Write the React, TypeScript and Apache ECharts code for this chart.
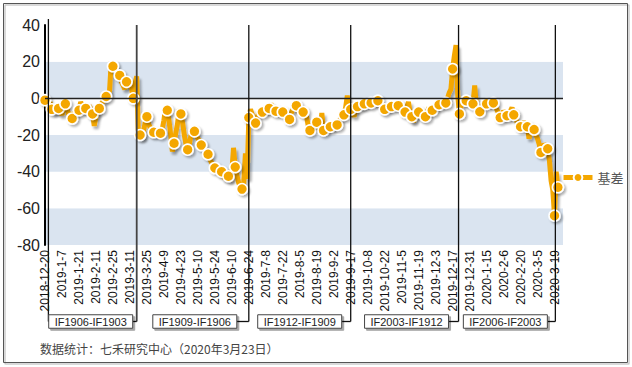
import React, { useEffect, useRef } from "react";
import * as echarts from "echarts";

// x-axis tick labels (every 10th trading day)
const xLabels = [
  "2018-12-20", "2019-1-7", "2019-1-21", "2019-2-11", "2019-2-25", "2019-3-11",
  "2019-3-25", "2019-4-9", "2019-4-23", "2019-5-10", "2019-5-24", "2019-6-10",
  "2019-6-24", "2019-7-8", "2019-7-22", "2019-8-5", "2019-8-19", "2019-9-2",
  "2019-9-17", "2019-10-8", "2019-10-22", "2019-11-5", "2019-11-19", "2019-12-3",
  "2019-12-17", "2019-12-31", "2020-1-15", "2020-2-6", "2020-2-20", "2020-3-5",
  "2020-3-19",
];

// daily basis values (trading-day index 0 = 2018-12-20)
const basis = [
  -1, -3, -5, -2, -6, -7, -8, -5, -5.5, -7,
  -9, -5, -3, -6, -9, -8, -11, -9, -7, -8,
  -6.5, -2, -4, -7, -5.5, -6, -4, -6, -8.5, -15,
  -10, -7, -5.5, -3, -2, -1, 1, 2, 4, 20,
  17.5, 19, 15, 14, 12.5, 9, 7, 5, 9, 6,
  8, 5, 0, 8, 12, -21, -20, -22, -18, -13,
  -10, -14, -16, -20, -18.5, -17, -19, -18, -19, -17,
  -12, -5, -6.5, -12, -20, -29, -24.5, -19, -14, -6,
  -8.5, -13, -20, -25, -28, -25, -20, -17, -18, -20,
  -22, -23, -25.5, -27, -28, -29, -30.5, -33, -35, -36,
  -38, -39, -40, -41, -40, -42, -44, -43, -42.5, -45,
  -40, -27, -37.5, -42, -46, -48, -49.5, -46, -30, -44,
  -10.5, -6, -9, -12, -13.5, -10, -8, -7, -7.5, -7,
  -6, -6, -5.5, -3, -5, -7, -7, -7, -8, -7,
  -7.5, -9, -10, -12, -11.5, -8, -6, -3, -4, -6,
  -8, -7, -7.5, -9, -10, -15, -17.5, -16, -14, -13,
  -13, -15, -17, -8, -17.5, -17, -16, -15, -15.5, -16,
  -15, -14, -14.5, -13, -11, -10, -9, -5, 1.5, -4,
  -6, -7, -10, -6, -4.5, -4, -3, -5, -3, -3,
  -2, -3, -2.5, -2, -1.5, -2, -1.3, -3, -5, -7,
  -6, -5, -4, -5, -4.5, -4, -3, -4, -4, -5,
  -6, -8, -7.5, -5, -2, -8, -10, -13, -9, -8,
  -7.5, -9, -11, -10, -10, -8, -5, -7, -6.5, -5,
  -4, -4, -3.5, -3, -2, -3, -2.5, 0, 3, 5,
  16, 23, 29, 2, -8.5, -4, -1, -2, -1.3, -2,
  -3, -1, -3, 7, -4, -6, -7.3, -5, -3, -2,
  -3, -2, -3, -2, -2.5, -4, -6, -8, -10.5, -9,
  -7, -8, -9.5, -10, -7, -5, -9, -11, -13, -14,
  -15.5, -14, -13, -14, -15.5, -22, -18, -15, -17, -20,
  -22, -25, -29.5, -27, -25, -26, -27.5, -34, -45, -50,
  -64, -40, -48.5,
];

// contract roll annotations: line positions (trading-day index) and labels
const rollIdx = [2, 54, 120, 180, 243.5, 300.5];
const rollLabels = ["IF1906-IF1903", "IF1909-IF1906", "IF1912-IF1909", "IF2003-IF1912", "IF2006-IF2003"];

const ORANGE = "#f4a700";
const FONT = "'Liberation Sans', Arial, sans-serif";

export default function App() {
  const ref = useRef<HTMLDivElement>(null);
  useEffect(() => {
    if (!ref.current) return;
    const chart = echarts.init(ref.current, null, { renderer: "svg" });
    const last = basis.length - 1;
    const data = basis.map((v, i) =>
      i % 4 === 0 || i === last ? { value: [i, v] } : { value: [i, v], symbol: "none" }
    );
    chart.setOption({
      animation: false,
      backgroundColor: "#fff",
      grid: { left: 45, top: 25, right: 69, bottom: 122, containLabel: false },
      legend: {
        data: ["基差"],
        left: 561,
        top: 171,
        padding: 0,
        itemWidth: 29,
        itemHeight: 11,
        lineStyle: { width: 5 },
        textStyle: { fontSize: 13, color: "#555", fontFamily: "'Noto Sans CJK SC', sans-serif" },
      },
      xAxis: {
        type: "value",
        min: 0,
        max: 305,
        interval: 10,
        axisLine: { show: false },
        axisTick: { show: false },
        splitLine: { show: false },
        axisLabel: {
          rotate: 90,
          fontSize: 12,
          color: "#111",
          fontFamily: FONT,
          margin: 5,
          showMaxLabel: false,
          formatter: (v: number) => (Number.isInteger(v / 10) && xLabels[v / 10]) || "",
        },
      },
      yAxis: {
        type: "value",
        min: -80,
        max: 40,
        interval: 20,
        axisLine: { show: true, onZero: false, lineStyle: { color: "#000", width: 2 } },
        axisTick: { show: false },
        splitLine: { show: false },
        splitArea: { show: true, areaStyle: { color: ["#dae4f0", "#ffffff"] } },
        axisLabel: { fontSize: 16, color: "#222", fontFamily: FONT, margin: 5 },
      },
      series: [
        {
          name: "基差",
          type: "line",
          data,
          symbol: "circle",
          symbolSize: 11,
          lineStyle: {
            color: ORANGE,
            width: 5,
            shadowColor: "rgba(0,0,0,0.3)",
            shadowBlur: 2,
            shadowOffsetX: 2,
            shadowOffsetY: 3,
          },
          itemStyle: {
            color: ORANGE,
            borderColor: "#fff",
            borderWidth: 1.6,
            shadowColor: "rgba(0,0,0,0.3)",
            shadowBlur: 2,
            shadowOffsetX: 2,
            shadowOffsetY: 2,
          },
          markLine: {
            silent: true,
            symbol: "none",
            label: { show: false },
            lineStyle: { color: "#222", width: 1.3, type: "solid" },
            data: [{ yAxis: 0 }],
          },
        },
      ],
    });

    const px = (i: number) => chart.convertToPixel({ xAxisIndex: 0 }, i) as number;
    const lineXs = rollIdx.map(px);
    const yTop = (chart.convertToPixel({ yAxisIndex: 0 }, 40) as number) - 1;
    const connY = 321.5;
    const boxW = 84;
    const boxH = 13.5;
    const boxTop = connY - boxH / 2;
    const gaps = [4, 12, 9, 10, 8];
    const elements: any[] = [];
    // outer frame
    elements.push({
      type: "rect",
      shape: { x: 3.5, y: 3.5, width: 624, height: 359 },
      style: { fill: "none", stroke: "#555", lineWidth: 1, shadowColor: "rgba(0,0,0,0.3)", shadowOffsetX: 1.5, shadowOffsetY: 1.5 },
      z: 100,
    });
    lineXs.forEach((x, i) => {
      elements.push({
        type: "line",
        shape: { x1: x, y1: i === 0 ? 19 : yTop + 1, x2: x, y2: connY },
        style: { stroke: i === 1 ? "#444" : "#111", lineWidth: i === 1 ? 1.8 : 1.3 },
        z: 100,
      });
    });
    rollLabels.forEach((label, i) => {
      const lx = lineXs[i + 1];
      const right = lx - gaps[i];
      const left = right - boxW;
      elements.push({
        type: "line",
        shape: { x1: lx, y1: connY, x2: right, y2: connY },
        style: { stroke: "#111", lineWidth: 1.3 },
        z: 100,
      });
      if (i === 0) {
        elements.push({
          type: "line",
          shape: { x1: lineXs[0], y1: connY, x2: left, y2: connY },
          style: { stroke: "#111", lineWidth: 1.3 },
          z: 100,
        });
      }
      elements.push({
        type: "rect",
        shape: { x: left, y: boxTop, width: boxW, height: boxH },
        style: { fill: "#fff", stroke: "#444", lineWidth: 1, shadowColor: "rgba(0,0,0,0.35)", shadowOffsetX: 2, shadowOffsetY: 2 },
        z: 101,
      });
      elements.push({
        type: "text",
        x: left + boxW / 2,
        y: connY,
        style: { text: label, fontSize: 11, fontFamily: FONT, fill: "#222", align: "center", verticalAlign: "middle" },
        z: 102,
      });
    });
    elements.push({
      type: "text",
      x: 40,
      y: 348,
      style: {
        text: "数据统计：七禾研究中心（2020年3月23日）",
        fontSize: 12,
        fontFamily: "'Noto Sans CJK SC', sans-serif",
        fill: "#444",
        align: "left",
        verticalAlign: "middle",
      },
      z: 102,
    });
    chart.setOption({ graphic: { elements } });
    return () => chart.dispose();
  }, []);
  return (
    <div
      ref={ref}
      style={{ position: "absolute", left: 0, top: 0, width: 632, height: 367, background: "#fff" }}
    />
  );
}
